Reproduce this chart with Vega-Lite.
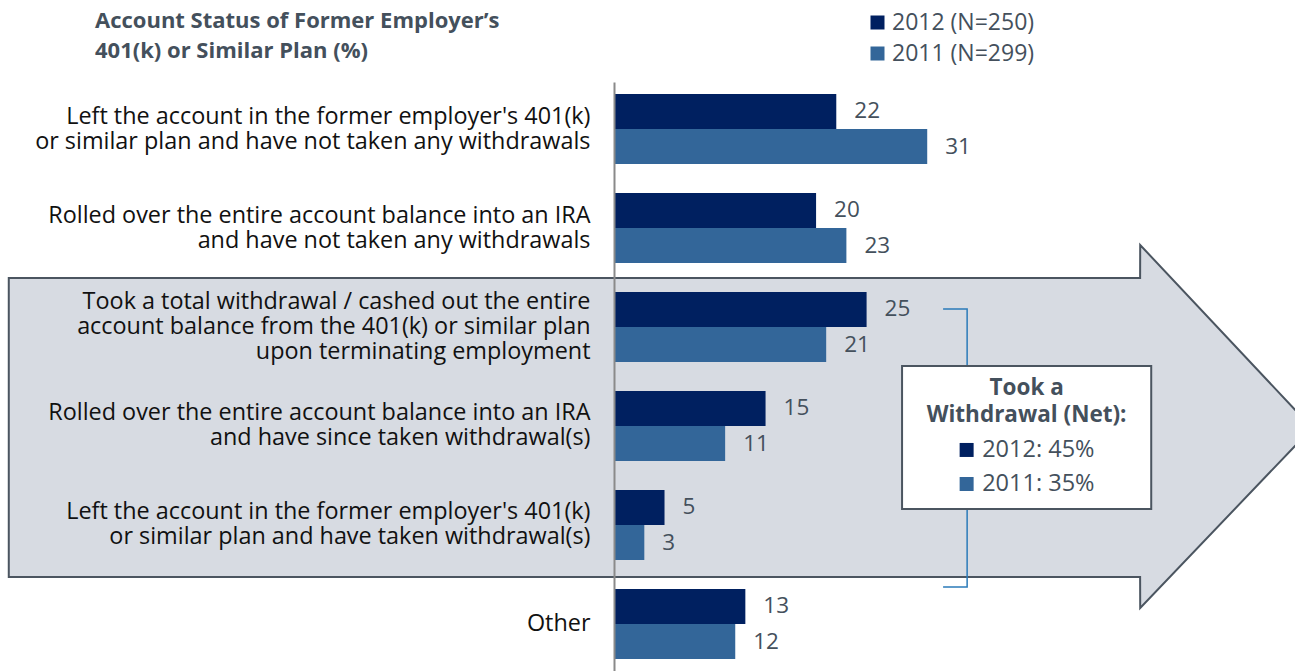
{
  "$schema": "https://vega.github.io/schema/vega-lite/v6.json",
  "width": 681,
  "height": 589,
  "autosize": {"type": "none"},
  "padding": {"left": 614, "top": 82, "right": 0, "bottom": 0},
  "background": "white",
  "config": {"view": {"stroke": null}, "font": "Open Sans"},
  "title": {
    "text": ["Account Status of Former Employer’s", "401(k) or Similar Plan (%)"],
    "anchor": "start",
    "frame": "group",
    "dx": -519,
    "dy": 52,
    "fontSize": 22,
    "fontWeight": "bold",
    "color": "#44505c",
    "lineHeight": 30,
    "offset": 0,
    "font": "Open Sans"
  },
  "datasets": {
    "bars": [
      {"status": "Left the account in the former employer's 401(k)|or similar plan and have not taken any withdrawals", "year": "2012 (N=250)", "pct": 22},
      {"status": "Left the account in the former employer's 401(k)|or similar plan and have not taken any withdrawals", "year": "2011 (N=299)", "pct": 31},
      {"status": "Rolled over the entire account balance into an IRA|and have not taken any withdrawals", "year": "2012 (N=250)", "pct": 20},
      {"status": "Rolled over the entire account balance into an IRA|and have not taken any withdrawals", "year": "2011 (N=299)", "pct": 23},
      {"status": "Took a total withdrawal / cashed out the entire|account balance from the 401(k) or similar plan|upon terminating employment", "year": "2012 (N=250)", "pct": 25},
      {"status": "Took a total withdrawal / cashed out the entire|account balance from the 401(k) or similar plan|upon terminating employment", "year": "2011 (N=299)", "pct": 21},
      {"status": "Rolled over the entire account balance into an IRA|and have since taken withdrawal(s)", "year": "2012 (N=250)", "pct": 15},
      {"status": "Rolled over the entire account balance into an IRA|and have since taken withdrawal(s)", "year": "2011 (N=299)", "pct": 11},
      {"status": "Left the account in the former employer's 401(k)|or similar plan and have taken withdrawal(s)", "year": "2012 (N=250)", "pct": 5},
      {"status": "Left the account in the former employer's 401(k)|or similar plan and have taken withdrawal(s)", "year": "2011 (N=299)", "pct": 3},
      {"status": "Other", "year": "2012 (N=250)", "pct": 13},
      {"status": "Other", "year": "2011 (N=299)", "pct": 12}
    ],
    "arrow": [
      {"x": -59.9, "y": 1.505, "y2": 4.525},
      {"x": 52.07, "y": 1.505, "y2": 4.525},
      {"x": 52.08, "y": 1.172, "y2": 4.838},
      {"x": 69.1, "y": 3.02, "y2": 3.02}
    ],
    "bracket": [
      {"i": 0, "x": 32.57, "y": 1.818},
      {"i": 1, "x": 34.95, "y": 1.818},
      {"i": 2, "x": 34.95, "y": 4.626},
      {"i": 3, "x": 32.57, "y": 4.626}
    ],
    "box": [
      {"x": 28.51, "x2": 53.17, "y": 2.394, "y2": 3.838}
    ],
    "boxhead": [
      {"text": "Took a", "x": 40.84, "y": 2.616},
      {"text": "Withdrawal (Net):", "x": 40.84, "y": 2.889}
    ],
    "boxitems": [
      {"text": "2012: 45%", "year": "2012 (N=250)", "x": 36.44, "sx": 34.9, "y": 3.242},
      {"text": "2011: 35%", "year": "2011 (N=299)", "x": 36.44, "sx": 34.9, "y": 3.586}
    ]
  },
  "resolve": {"scale": {"y": "independent"}, "axis": {"y": "independent"}},
  "layer": [
    {
      "data": {"name": "arrow"},
      "mark": {"type": "area", "orient": "vertical", "fill": "#d7dbe2", "stroke": "#4b5560", "strokeWidth": 2, "fillOpacity": 1},
      "encoding": {
        "x": {"field": "x", "type": "quantitative", "scale": {"domain": [0, 67.4], "nice": false, "zero": false}, "axis": null},
        "y": {"field": "y", "type": "quantitative", "scale": {"domain": [-0.4747, 5.4747], "reverse": true, "nice": false, "zero": false}, "axis": null},
        "y2": {"field": "y2"}
      }
    },
    {
      "data": {"name": "bars"},
      "encoding": {
        "y": {
          "field": "status",
          "type": "nominal",
          "sort": null,
          "scale": {"paddingInner": 0.2929, "paddingOuter": 0.1212},
          "axis": {
            "title": null,
            "labelExpr": "split(datum.label, '|')",
            "labelFontSize": 23.4,
            "labelFont": "Open Sans",
            "labelColor": "#111111",
            "labelPadding": 24,
            "labelLineHeight": 25,
            "labelOffset": {"expr": "-(length(split(datum.value, '|')) - 1) * 12.5"},
            "labelLimit": 0,
            "ticks": false,
            "domainColor": "#8a8a8a",
            "domainWidth": 2,
            "grid": false,
            "zindex": 1
          }
        },
        "yOffset": {"field": "year", "type": "nominal", "sort": ["2012 (N=250)", "2011 (N=299)"]},
        "x": {"field": "pct", "type": "quantitative", "scale": {"domain": [0, 67.4], "nice": false, "zero": false}, "axis": null}
      },
      "layer": [
        {
          "mark": {"type": "bar"},
          "encoding": {
            "color": {
              "field": "year",
              "type": "nominal",
              "scale": {"domain": ["2012 (N=250)", "2011 (N=299)"], "range": ["#002060", "#336699"]},
              "legend": {
                "orient": "none",
                "legendX": 252,
                "legendY": -71,
                "title": null,
                "symbolType": "square",
                "symbolSize": 196,
                "symbolStrokeWidth": 0,
                "labelFontSize": 23,
                "labelFont": "Open Sans",
                "labelColor": "#44505c",
                "labelOffset": 3,
                "rowPadding": 7,
                "padding": 0
              }
            }
          }
        },
        {
          "mark": {"type": "text", "align": "left", "baseline": "middle", "dx": 18, "fontSize": 22.5, "color": "#44505c"},
          "encoding": {"text": {"field": "pct", "type": "quantitative"}}
        }
      ]
    },
    {
      "layer": [
        {
          "data": {"name": "bracket"},
          "mark": {"type": "line", "color": "#2b7bb9", "strokeWidth": 1.5},
          "encoding": {
            "x": {"field": "x", "type": "quantitative", "scale": {"domain": [0, 67.4], "nice": false, "zero": false}, "axis": null},
            "y": {"field": "y", "type": "quantitative", "scale": {"domain": [-0.4747, 5.4747], "reverse": true, "nice": false, "zero": false}, "axis": null},
            "order": {"field": "i", "type": "quantitative"}
          }
        },
        {
          "data": {"name": "box"},
          "mark": {"type": "rect", "fill": "white", "stroke": "#4b5560", "strokeWidth": 2},
          "encoding": {
            "x": {"field": "x", "type": "quantitative", "scale": {"domain": [0, 67.4], "nice": false, "zero": false}, "axis": null},
            "x2": {"field": "x2"},
            "y": {"field": "y", "type": "quantitative", "scale": {"domain": [-0.4747, 5.4747], "reverse": true, "nice": false, "zero": false}, "axis": null},
            "y2": {"field": "y2"}
          }
        },
        {
          "data": {"name": "boxhead"},
          "mark": {"type": "text", "align": "center", "baseline": "middle", "fontSize": 22.5, "fontWeight": "bold", "color": "#44505c"},
          "encoding": {
            "x": {"field": "x", "type": "quantitative", "scale": {"domain": [0, 67.4], "nice": false, "zero": false}, "axis": null},
            "y": {"field": "y", "type": "quantitative", "scale": {"domain": [-0.4747, 5.4747], "reverse": true, "nice": false, "zero": false}, "axis": null},
            "text": {"field": "text"}
          }
        },
        {
          "data": {"name": "boxitems"},
          "mark": {"type": "text", "align": "left", "baseline": "middle", "fontSize": 23.5, "color": "#44505c"},
          "encoding": {
            "x": {"field": "x", "type": "quantitative", "scale": {"domain": [0, 67.4], "nice": false, "zero": false}, "axis": null},
            "y": {"field": "y", "type": "quantitative", "scale": {"domain": [-0.4747, 5.4747], "reverse": true, "nice": false, "zero": false}, "axis": null},
            "text": {"field": "text"}
          }
        },
        {
          "data": {"name": "boxitems"},
          "mark": {"type": "point", "shape": "square", "size": 196, "filled": true, "opacity": 1},
          "encoding": {
            "x": {"field": "sx", "type": "quantitative", "scale": {"domain": [0, 67.4], "nice": false, "zero": false}, "axis": null},
            "y": {"field": "y", "type": "quantitative", "scale": {"domain": [-0.4747, 5.4747], "reverse": true, "nice": false, "zero": false}, "axis": null},
            "color": {"field": "year", "type": "nominal", "legend": null}
          }
        }
      ]
    }
  ]
}
